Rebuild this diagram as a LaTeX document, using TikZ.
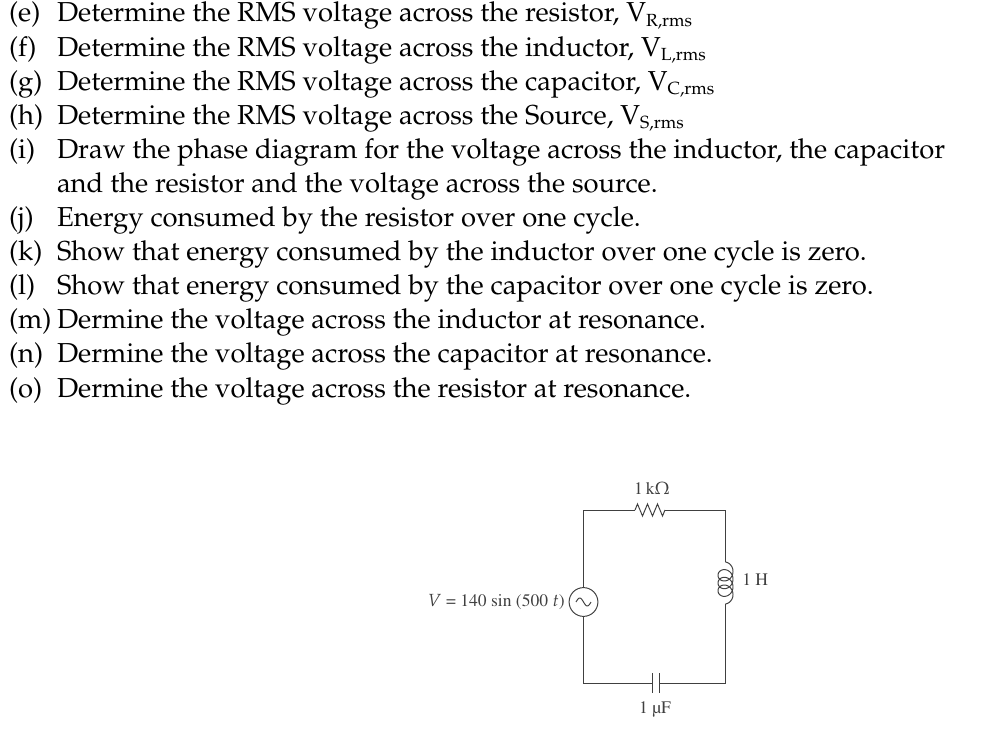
\documentclass[tikz,border=0pt]{standalone}
\usepackage[T1]{fontenc}
\usepackage{mathpazo}
\usepackage{textcomp}
\usepackage{tikz}
\newcommand{\vsub}[1]{\raisebox{-0.35ex}{\fontsize{12.5}{12}\selectfont #1}}
\tikzset{
tag/.style = {anchor=base west, inner sep=0pt, outer sep=0pt,
              font=\fontsize{19.5}{23}\selectfont},
qline/.style = {tag},
}
\tikzset{
wire/.style = {draw=black!75, line width=0.7pt},
val/.style = {inner sep=0pt, text=black!75,
              font=\fontfamily{ptm}\fontsize{12.5}{14}\selectfont}
}

\begin{document}
\begin{tikzpicture}[x=0.25mm, y=-0.25mm]
    \useasboundingbox (0,0) rectangle (997,743);

    % question list
    \node[tag] (tagE) at (9,22) {(e)};
    \node[tag] (tagF) at (9,56.1) {(f)};
    \node[tag] (tagG) at (9,90.2) {(g)};
    \node[tag] (tagH) at (9,124.3) {(h)};
    \node[tag] (tagI) at (9,158.4) {(i)};
    \node[tag] (tagJ) at (9,226.6) {(j)};
    \node[tag] (tagK) at (9,260.7) {(k)};
    \node[tag] (tagL) at (9,294.8) {(l)};
    \node[tag] (tagM) at (9,328.9) {(m)};
    \node[tag] (tagN) at (9,363) {(n)};
    \node[tag] (tagO) at (9,397.1) {(o)};

    \node[qline] (lineE) at (57,22) {Determine the RMS voltage across the resistor, V\vsub{R,rms}};
    \node[qline] (lineF) at (57,56.1) {Determine the RMS voltage across the inductor, V\vsub{L,rms}};
    \node[qline] (lineG) at (57,90.2) {Determine the RMS voltage across the capacitor, V\vsub{C,rms}};
    \node[qline] (lineH) at (57,124.3) {Determine the RMS voltage across the Source, V\vsub{S,rms}};
    \node[qline] (lineI) at (57,158.4) {Draw the phase diagram for the voltage across the inductor, the capacitor};
    \node[qline] (lineIb) at (57,192.5) {and the resistor and the voltage across the source.};
    \node[qline] (lineJ) at (57,226.6) {Energy consumed by the resistor over one cycle.};
    \node[qline] (lineK) at (57,260.7) {Show that energy consumed by the inductor over one cycle is zero.};
    \node[qline] (lineL) at (57,294.8) {Show that energy consumed by the capacitor over one cycle is zero.};
    \node[qline] (lineM) at (57,328.9) {Dermine the voltage across the inductor at resonance.};
    \node[qline] (lineN) at (57,363) {Dermine the voltage across the capacitor at resonance.};
    \node[qline] (lineO) at (57,397.1) {Dermine the voltage across the resistor at resonance.};

    % circuit
    \coordinate (topLeft) at (583.5,510);
    \coordinate (topRight) at (725.5,510);
    \coordinate (botLeft) at (583.5,683);
    \coordinate (botRight) at (725.5,683);
    \coordinate (resLeft) at (635,510);
    \coordinate (resRight) at (665,510);
    \coordinate (coilTop) at (725.5,562);
    \coordinate (coilBot) at (725.5,604);
    \coordinate (capA) at (652,683);
    \coordinate (capB) at (659,683);

    \node[circle, draw=black!75, line width=0.7pt, minimum size=7.2mm, inner sep=0pt] (srcNode) at (583.5,602) {};
    \draw[wire] plot[domain=-1:1, samples=30, smooth] ({583.5+7.5*\x},{602+4*sin(180*\x)});

    \draw[wire] (srcNode.north) -- (topLeft) -- (resLeft);
    \draw[wire] (resLeft) -- ++(2.5,-6) -- ++(5,12) -- ++(5,-12) -- ++(5,12)
                -- ++(5,-12) -- ++(5,12) -- (resRight);
    \draw[wire] (resRight) -- (topRight) -- (coilTop);
    \draw[wire] plot[domain=90:1350, samples=240, smooth]
                ({725.5-7.5*cos(\x)},{569.5+0.02143*(\x-90)-7.5*sin(\x)});
    \draw[wire] (coilBot) -- (botRight) -- (capB);
    \draw[wire] (capB) ++(0,-10) -- ++(0,20);
    \draw[wire] (capA) ++(0,-10) -- ++(0,20);
    \draw[wire] (capA) -- (botLeft) -- (srcNode.south);

    \node[val] (resVal) at (652,488) {1\,k$\Omega$};
    \node[val, anchor=west] (coilVal) at (742,580) {1 H};
    \node[val] (capVal) at (655,709) {1 \textmu F};
    \node[val, anchor=east] (srcVal) at (565,602) {$V$ = 140 sin (500 $t$)};
\end{tikzpicture}
\end{document}
